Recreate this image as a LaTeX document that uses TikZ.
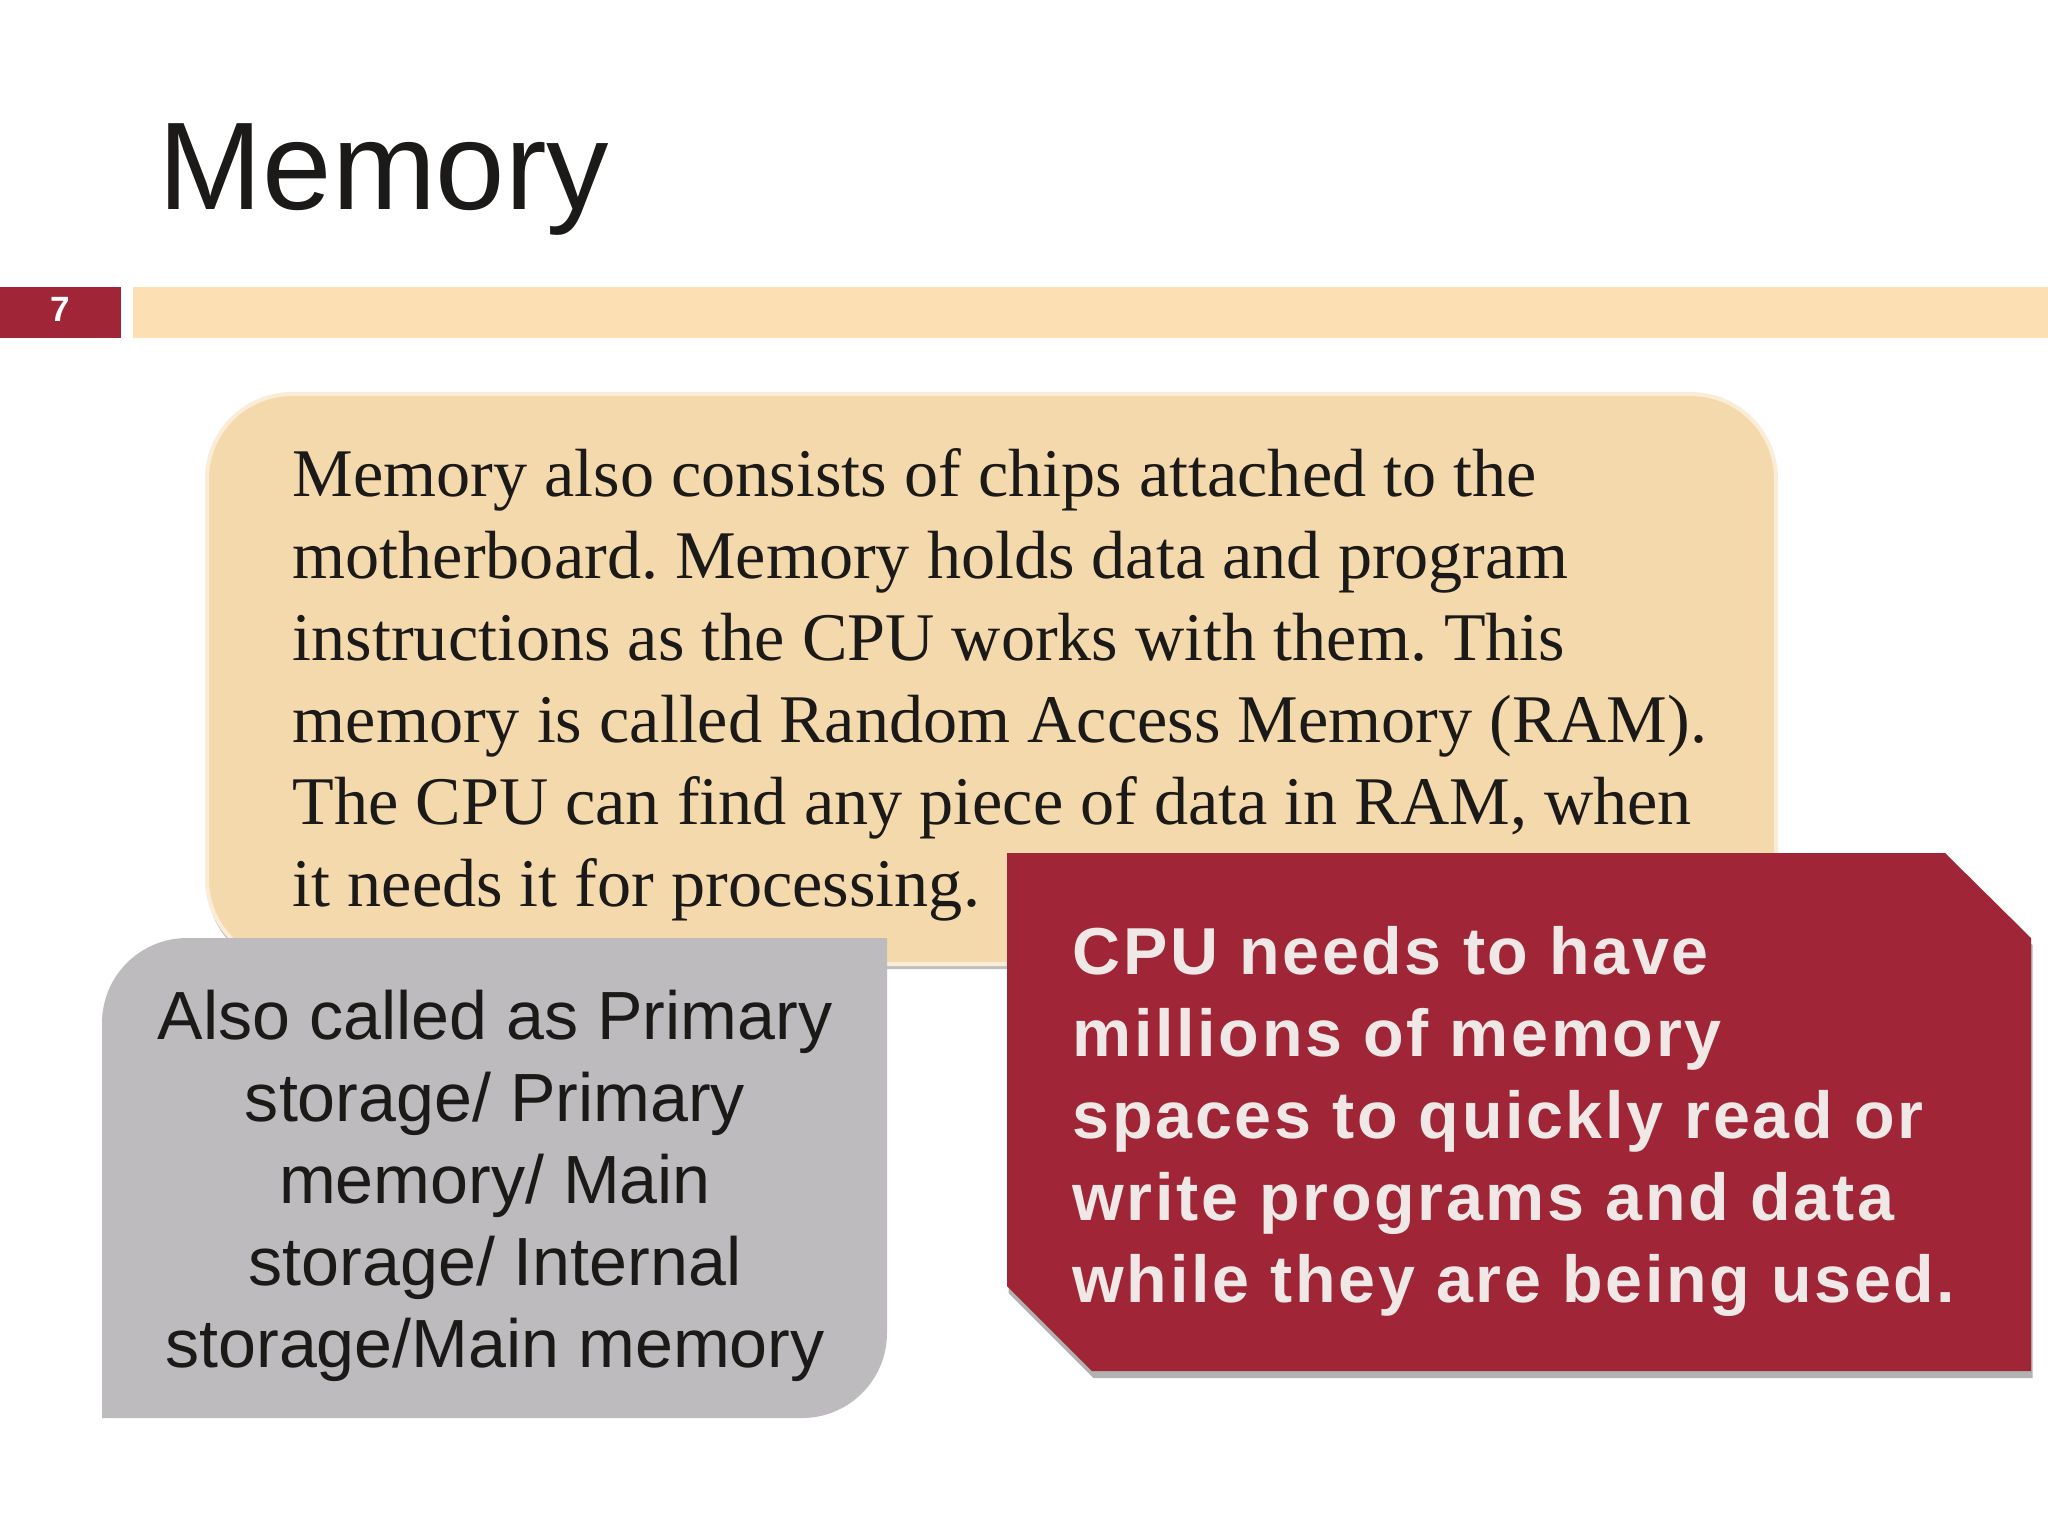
\documentclass[tikz,border=0pt]{standalone}
\usepackage{fontspec}
\setmainfont{Liberation Sans}
\newfontfamily\serifbody{Liberation Serif}
\usepackage{tikz}
\usetikzlibrary{positioning,shadows}
\definecolor{tabred}{HTML}{9F2537}
\definecolor{barcream}{HTML}{FCDFB2}
\definecolor{boxtan}{HTML}{F4D9AD}
\definecolor{boxgrey}{HTML}{BDBBBE}
\definecolor{inkdark}{HTML}{1C1A18}
\definecolor{paletext}{HTML}{EFE8E6}
\tikzset{
    headerband/.style={rectangle, inner sep=0pt, minimum height=5.1mm},
    memorytext/.style={inner sep=0pt, anchor=north west, align=left, text=inkdark, font=\serifbody\frenchspacing\fontsize{19.4}{23.3}\selectfont},
    greytext/.style={inner sep=0pt, align=center, text=inkdark, font=\fontsize{19.4}{23.3}\selectfont},
    cputext/.style={inner sep=0pt, anchor=north west, align=left, text=paletext, font=\addfontfeatures{LetterSpace=4}\bfseries\fontsize{18.9}{23.3}\selectfont}
    }

\begin{document}
\begin{tikzpicture}[x=.1mm,y=-.1mm]
        \useasboundingbox[fill=white] (0,0) rectangle (2048,1536);
        \node[anchor=base west, inner sep=0pt, text=inkdark, font=\fontsize{35.5}{40}\selectfont] (title) at (158,209) {Memory};
        \node[headerband, anchor=north west, fill=tabred, minimum width=12.5mm, text=white, text depth=.66mm, font=\bfseries\fontsize{10}{12}\selectfont] (tab) at (-5,286) {\hspace{.5mm}7};
        \node[headerband, anchor=north west, fill=barcream, minimum width=192mm] (bar) at (132,286) {};

        % tan box with the main text
        \node[rectangle, rounded corners=8.5mm, anchor=north west, minimum width=156.9mm, minimum height=57mm, fill=boxtan, draw=boxtan!50!white, line width=.4mm, drop shadow={shadow xshift=0mm, shadow yshift=-.5mm, opacity=.45, fill=black!55}] (memorybox) at (205,392) {};
        \node[memorytext] (memorytxt) at (292,448) {Memory also consists of chips attached to the\\
        motherboard. Memory holds data and program\\
        instructions as the CPU works with them. This\\
        memory is called Random Access Memory (RAM).\\
        The CPU can find any piece of data in RAM, when\\
        it needs it for processing.};

        % grey box, two corners rounded
        \fill[boxgrey] (102,1418) [sharp corners] -- (102,1023) [rounded corners=8.5mm] -- (102,938) [sharp corners] -- (887,938) -- (887,1333) [rounded corners=8.5mm] -- (887,1418) [sharp corners] -- cycle;
        \node[greytext] (greytxt) at (495,1186) {Also called as Primary\\
        storage/ Primary\\
        memory/ Main\\
        storage/ Internal\\
        storage/Main memory};

        % red box, two corners cut
        \fill[tabred, drop shadow={shadow xshift=.15mm, shadow yshift=-.7mm, opacity=.5, fill=black!60}] (1007,853) -- (1945,853) -- (2031,938) -- (2031,1371) -- (1092,1371) -- (1007,1286) -- cycle;
        \node[cputext] (cputxt) at (1072,926) {CPU needs to have\\
        millions of memory\\
        spaces to quickly read or\\
        write programs and data\\
        while they are being used.};
\end{tikzpicture}
\end{document}
